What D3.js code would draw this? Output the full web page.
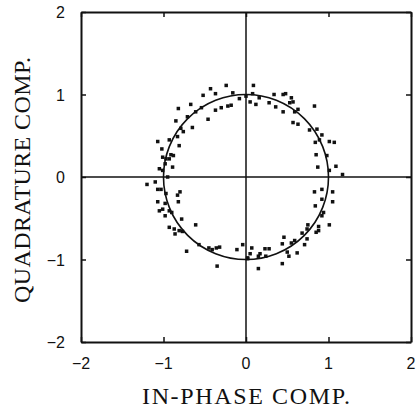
<!DOCTYPE html>
<html lang="en">
<head>
    <meta charset="UTF-8">
    <title>IQ scatter</title>
    <script type="text/javascript" src="https://cdn.jsdelivr.net/npm/d3@7"></script>
    <style type="text/css">
        body { margin: 0; background: white; }
        .tick-label { font-family: "Liberation Sans", Arial, sans-serif; font-size: 16px; fill: #111; }
        .axis-title { font-family: "Liberation Serif", "Times New Roman", serif; font-size: 24px; fill: #111; }
    </style>
</head>
<body>
    <script type="text/javascript">
        var width = 416;
        var height = 411;

        var inPhase = [
            -0.24, -0.43, -0.52, -0.37, -0.16, -0.08, -0.18, -0.30, -0.37, -0.22,
            -0.54, -0.67, -0.61, -0.82, -0.46, -0.85, -0.71, -0.79, -0.76, -0.65,
            -0.83, -0.93, -0.81, -1.07, -1.02, -1.01, -0.97, -0.91, -0.88, -0.93,
            -0.98, -0.89, -1.05, -0.95, -1.20, -1.10, -1.01,
            0.09, 0.08, 0.00, 0.05, 0.12, 0.16, 0.28, 0.34, 0.45, 0.48,
            0.36, 0.45, 0.55, 0.57, 0.53, 0.63, 0.59, 0.83, 0.57, 0.63,
            0.77, 0.86, 0.92, 0.89, 1.01, 1.07, 0.84, 0.85, 0.98, 0.87,
            1.09, 1.01, 1.17,
            -1.07, -1.03, -0.97, -0.83, -0.80, -0.82, -1.07, -0.98, -1.01, -1.05,
            -0.93, -0.90, -0.98, -0.78, -0.93, -0.87, -0.81, -0.86, -0.77, -0.61,
            -0.72, -0.57, -0.45, -0.41, -0.36, -0.32, -0.35, -0.11, -0.04, 0.02,
            0.83, 0.92, 1.05, 0.92, 1.05, 0.84, 0.94, 0.92, 1.01, 0.88,
            0.75, 0.74, 0.88, 0.85, 0.68, 0.74, 0.59, 0.55, 0.46, 0.44,
            0.71, 0.62, 0.50, 0.52, 0.28, 0.23, 0.24, 0.17, 0.15, 0.07,
            0.05, 0.02, 0.15, 0.44
        ];
        var quadrature = [
            1.11, 1.07, 0.99, 1.01, 1.02, 0.95, 0.87, 0.84, 0.81, 0.86,
            0.84, 0.88, 0.79, 0.83, 0.70, 0.68, 0.73, 0.59, 0.55, 0.60,
            0.49, 0.45, 0.38, 0.43, 0.34, 0.24, 0.22, 0.27, 0.26, 0.22,
            0.16, 0.12, 0.10, 0.00, -0.09, -0.06, 0.08,
            1.11, 1.01, 0.98, 0.91, 0.88, 0.96, 0.90, 1.00, 1.00, 1.01,
            0.85, 0.79, 0.96, 0.91, 0.90, 0.82, 0.79, 0.86, 0.66, 0.64,
            0.57, 0.58, 0.51, 0.45, 0.43, 0.42, 0.42, 0.27, 0.26, 0.12,
            0.13, 0.08, 0.03,
            -0.15, -0.15, -0.20, -0.22, -0.18, -0.30, -0.30, -0.32, -0.39, -0.41,
            -0.41, -0.43, -0.47, -0.51, -0.61, -0.63, -0.65, -0.69, -0.66, -0.58,
            -0.90, -0.82, -0.86, -0.88, -0.86, -0.85, -1.08, -0.88, -0.82, -0.99,
            -0.18, -0.15, -0.18, -0.27, -0.30, -0.35, -0.43, -0.47, -0.58, -0.60,
            -0.58, -0.63, -0.65, -0.67, -0.68, -0.75, -0.77, -0.80, -0.73, -0.81,
            -0.82, -0.92, -0.91, -0.96, -0.87, -0.87, -0.96, -0.93, -0.96, -0.86,
            -0.93, -0.98, -1.11, -1.05
        ];
        var tickValues = [-2, -1, 0, 1, 2];
        var unitRadius = 1;
        var xTitle = "IN-PHASE COMP.";
        var yTitle = "QUADRATURE COMP.";

        var points = inPhase.map(function (v, i) { return { x: v, y: quadrature[i] }; });

        var plotLeft = 81, plotRight = 411, plotTop = 12, plotBottom = 342;

        var scaleX = d3.scaleLinear().domain([-2, 2]).range([plotLeft, plotRight]);
        var scaleY = d3.scaleLinear().domain([-2, 2]).range([plotBottom, plotTop]);

        var svg = d3.select('body')
            .append('svg')
            .attr('width', width)
            .attr('height', height);

        // zero lines
        svg.append('line')
            .attr('x1', scaleX(-2)).attr('x2', scaleX(2))
            .attr('y1', scaleY(0)).attr('y2', scaleY(0))
            .attr('stroke', '#111').attr('stroke-width', 1.5);
        svg.append('line')
            .attr('x1', scaleX(0)).attr('x2', scaleX(0))
            .attr('y1', scaleY(-2)).attr('y2', scaleY(2))
            .attr('stroke', '#111').attr('stroke-width', 1.5);

        // inward ticks on all four sides
        var axisB = d3.axisBottom(scaleX).tickValues(tickValues).tickSizeInner(-5).tickSizeOuter(0).tickFormat('');
        var axisT = d3.axisTop(scaleX).tickValues(tickValues).tickSizeInner(-5).tickSizeOuter(0).tickFormat('');
        var axisL = d3.axisLeft(scaleY).tickValues(tickValues).tickSizeInner(-5).tickSizeOuter(0).tickFormat('');
        var axisR = d3.axisRight(scaleY).tickValues(tickValues).tickSizeInner(-5).tickSizeOuter(0).tickFormat('');
        svg.append('g').attr('transform', `translate(0, ${plotBottom})`).call(axisB);
        svg.append('g').attr('transform', `translate(0, ${plotTop})`).call(axisT);
        svg.append('g').attr('transform', `translate(${plotLeft}, 0)`).call(axisL);
        svg.append('g').attr('transform', `translate(${plotRight}, 0)`).call(axisR);
        svg.selectAll('.domain').attr('stroke', '#111').attr('stroke-width', 2);
        svg.selectAll('.tick line').attr('stroke', '#111').attr('stroke-width', 1.5);

        // tick labels
        svg.selectAll('.xlab')
            .data(tickValues)
            .enter()
            .append('text')
            .attr('class', 'tick-label')
            .attr('x', function (d) { return scaleX(d); })
            .attr('y', plotBottom + 27)
            .attr('text-anchor', 'middle')
            .text(function (d) { return d < 0 ? '\u2212' + Math.abs(d) : d; });
        svg.selectAll('.ylab')
            .data(tickValues)
            .enter()
            .append('text')
            .attr('class', 'tick-label')
            .attr('x', plotLeft - 16)
            .attr('y', function (d) { return scaleY(d) + 6; })
            .attr('text-anchor', 'end')
            .text(function (d) { return d < 0 ? '\u2212' + Math.abs(d) : d; });

        // axis titles
        svg.append('text')
            .attr('class', 'axis-title')
            .attr('x', scaleX(0))
            .attr('y', 404)
            .attr('text-anchor', 'middle')
            .attr('textLength', 208)
            .text(xTitle);
        svg.append('text')
            .attr('class', 'axis-title')
            .attr('transform', `translate(30, ${scaleY(0) + 3}) rotate(-90)`)
            .attr('text-anchor', 'middle')
            .attr('textLength', 246)
            .text(yTitle);

        // unit circle
        svg.append('circle')
            .attr('cx', scaleX(0))
            .attr('cy', scaleY(0))
            .attr('r', scaleX(unitRadius) - scaleX(0))
            .attr('fill', 'none')
            .attr('stroke', '#111')
            .attr('stroke-width', 1.6);

        // samples
        svg.selectAll('.pt')
            .data(points)
            .enter()
            .append('rect')
            .attr('class', 'pt')
            .attr('x', function (d) { return scaleX(d.x) - 1.75; })
            .attr('y', function (d) { return scaleY(d.y) - 1.75; })
            .attr('width', 3.5)
            .attr('height', 3.5)
            .attr('fill', '#111');
    </script>
</body>
</html>
